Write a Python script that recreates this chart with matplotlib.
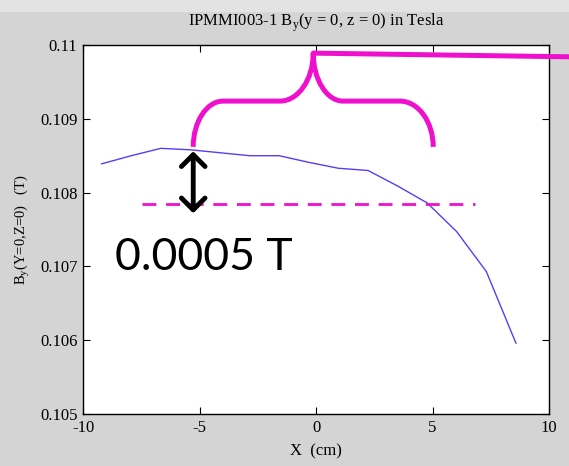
import numpy as np
import matplotlib
matplotlib.use("Agg")
import matplotlib.pyplot as plt
from matplotlib.path import Path
from matplotlib.patches import PathPatch, Rectangle

# field profile
x_cm = [-9.20, -7.93, -6.66, -5.39, -4.12, -2.85, -1.58, -0.31, 0.96, 2.23, 3.50, 4.77, 6.04, 7.31, 8.58]
by_t = [0.10839, 0.10850, 0.10860, 0.10858, 0.10854, 0.10850, 0.10850, 0.10841,
        0.10833, 0.10830, 0.10809, 0.10786, 0.10747, 0.10693, 0.10596]

ref_level = 0.10785      # dashed reference line
ref_x = [-7.47, 6.82]
delta_label = "0.0005 T"

xticks = [-10, -5, 0, 5, 10]
yticks = [0.105, 0.106, 0.107, 0.108, 0.109, 0.11]
ytick_labels = ["0.105", "0.106", "0.107", "0.108", "0.109", "0.11"]

blue = "#5a3cf5"
magenta = "#ee10cc"
serif = "Liberation Serif"

fig = plt.figure(figsize=(5.69, 4.66), dpi=100, facecolor="#d4d4d4")
fig.patches.append(Rectangle((0, 0.977), 1, 0.023, transform=fig.transFigure,
                             color="#e3e3e3", zorder=-1))
ax = fig.add_axes([0.1459, 0.1116, 0.819, 0.7918])

ax.plot(x_cm, by_t, color=blue, lw=1.0, zorder=3)
ax.plot(ref_x, [ref_level, ref_level], color=magenta, lw=2, dashes=(5, 3.5), zorder=3)

ax.set_xlim(-10, 10)
ax.set_ylim(0.105, 0.11)
ax.set_xticks(xticks)
ax.set_xticklabels([str(t) for t in xticks], family=serif, fontsize=12)
ax.set_yticks(yticks)
ax.set_yticklabels(ytick_labels, family=serif, fontsize=12)
ax.tick_params(direction="in", length=5, width=0.8, top=True, right=True, pad=4)
for s in ax.spines.values():
    s.set_linewidth(1.0)

ax.set_title(r"IPMMI003-1 B$_\mathregular{y}$(y = 0, z = 0) in Tesla", family=serif, fontsize=12, pad=14)
ax.set_xlabel("X  (cm)", family=serif, fontsize=12, labelpad=6)
ax.set_ylabel(r"B$_\mathregular{y}$(Y=0,Z=0)   (T)", family=serif, fontsize=10.5, labelpad=6)

# curly brace + pointer line
xl, xr, xt = -5.27, 5.03, -0.12
yb, ym, yt = 0.10862, 0.10924, 0.10989
h1, h2 = -3.99, -1.55
h3, h4 = 1.16, 3.60
k = 0.55
verts = [
    (xl, yb), (xl, yb + k * (ym - yb)), (h1 - k * (h1 - xl), ym), (h1, ym),
    (h2, ym),
    (h2 + k * (xt - h2), ym), (xt, yt - k * (yt - ym)), (xt, yt),
    (xt, yt - k * (yt - ym)), (h3 - k * (h3 - xt), ym), (h3, ym),
    (h4, ym),
    (h4 + k * (xr - h4), ym), (xr, yb + k * (ym - yb)), (xr, yb),
]
codes = [Path.MOVETO, Path.CURVE4, Path.CURVE4, Path.CURVE4,
         Path.LINETO,
         Path.CURVE4, Path.CURVE4, Path.CURVE4,
         Path.CURVE4, Path.CURVE4, Path.CURVE4,
         Path.LINETO,
         Path.CURVE4, Path.CURVE4, Path.CURVE4]
ax.add_patch(PathPatch(Path(verts, codes), fill=False, edgecolor=magenta, lw=3.6,
                       capstyle="butt", joinstyle="round", zorder=4))
ax.plot([xt, 10.9], [yt, 0.10984], color=magenta, lw=3.6, clip_on=False,
        solid_capstyle="butt", zorder=4)

# double arrow for the difference
ax.annotate("", xy=(-5.27, 0.10772), xytext=(-5.27, 0.10856),
            arrowprops=dict(arrowstyle="<->,head_length=0.85,head_width=0.85",
                            color="black", lw=3.5, shrinkA=0, shrinkB=0), zorder=5)
ax.text(-8.63, 0.10695, delta_label, family=["Lato", "DejaVu Sans"], fontsize=32,
        color="black", va="baseline", ha="left", zorder=5)

fig.savefig("out.png", dpi=100, facecolor=fig.get_facecolor())
